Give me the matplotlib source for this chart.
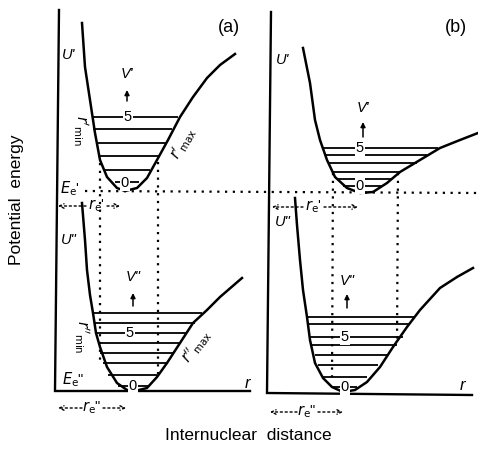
import numpy as np
import matplotlib.pyplot as plt

plt.rcParams.update({
    "font.family": ["Liberation Sans", "DejaVu Sans"],
    "mathtext.fontset": "custom",
    "mathtext.rm": "Liberation Sans",
    "mathtext.it": "Liberation Sans:italic",
})

# potential curves
upper_a_x = [82, 85, 90, 95, 100, 107, 117, 125, 137, 147, 157, 168, 180, 193, 207, 220, 235]
upper_a_y = [23, 67, 100, 133, 160, 177, 188, 191, 188, 178, 160, 140, 117, 97, 78, 65, 54]
lower_a_x = [82, 85, 87, 90, 93, 96, 100, 107, 117, 127, 135, 147, 157, 167, 180, 193, 207, 220, 242]
lower_a_y = [203, 240, 270, 295, 313, 333, 347, 367, 383, 390, 391, 388, 377, 363, 343, 323, 310, 297, 278]
upper_b_x = [303, 310, 315, 320, 327, 335, 347, 360, 373, 387, 400, 420, 440, 460, 478]
upper_b_y = [48, 83, 120, 140, 160, 177, 188, 193, 192, 183, 172, 160, 148, 140, 133]
lower_b_x = [295, 297, 300, 303, 307, 310, 315, 323, 332, 343, 355, 367, 380, 393, 407, 420, 440, 457, 473]
lower_b_y = [198, 225, 260, 290, 317, 340, 363, 378, 387, 392, 390, 382, 367, 347, 327, 310, 288, 277, 268]

# vibrational levels: height, left end, right end
lev_upper_a_y = [182, 170, 156, 143, 129, 117]
lev_upper_a_l = [115, 105, 98, 96, 93, 92]
lev_upper_a_r = [139, 150, 160, 167, 172, 178]
lev_lower_a_y = [386, 375, 363, 353, 343, 333, 323, 313]
lev_lower_a_l = [118, 108, 103, 100, 98, 97, 94, 93]
lev_lower_a_r = [148, 157, 167, 173, 180, 187, 195, 202]
lev_upper_b_y = [186, 179, 172, 163, 155, 148]
lev_upper_b_l = [343, 337, 332, 328, 325, 323]
lev_upper_b_r = [383, 392, 400, 417, 427, 438]
lev_lower_b_y = [387, 377, 365, 355, 345, 337, 324, 317]
lev_lower_b_l = [332, 323, 318, 315, 312, 310, 308, 307]
lev_lower_b_r = [357, 367, 378, 388, 397, 403, 410, 415]

# frames (vertical axis top, corner, baseline end)
frame_a = [(59, 10), (55, 391), (250, 391)]
frame_b = [(271, 12), (267, 393), (472, 395)]

fig = plt.figure(figsize=(4.78, 4.49), dpi=100)
ax = fig.add_axes([0, 0, 1, 1])
ax.set_xlim(0, 478)
ax.set_ylim(449, 0)
ax.axis("off")

for fr in (frame_a, frame_b):
    xs, ys = zip(*fr)
    ax.plot(xs, ys, color="black", lw=1.7, solid_joinstyle="miter")

for cx, cy in [(upper_a_x, upper_a_y), (lower_a_x, lower_a_y),
               (upper_b_x, upper_b_y), (lower_b_x, lower_b_y)]:
    ax.plot(cx, cy, color="black", lw=1.8)

for ly, ll, lr in [(lev_upper_a_y, lev_upper_a_l, lev_upper_a_r),
                   (lev_lower_a_y, lev_lower_a_l, lev_lower_a_r),
                   (lev_upper_b_y, lev_upper_b_l, lev_upper_b_r),
                   (lev_lower_b_y, lev_lower_b_l, lev_lower_b_r)]:
    ax.hlines(ly, ll, lr, color="black", lw=1.3)

# dotted guides
dot = dict(color="black", lw=1.6, linestyle=(0, (1, 2.5)))
ax.plot([85, 478], [191, 193], **dot)
ax.plot([100, 100], [163, 360], **dot)
ax.plot([158, 158], [162, 376], **dot)
ax.plot([333, 332], [173, 377], **dot)
ax.plot([398, 397], [173, 343], **dot)

# level numbers
num = dict(fontsize=10.5, ha="center", va="center",
           bbox=dict(facecolor="white", edgecolor="none", pad=0.6))
for x, y, s in [(128, 117, "5"), (125, 183, "0"), (130, 333, "5"), (133, 386, "0"),
                (360, 148, "5"), (360, 186, "0"), (345, 337, "5"), (345, 387, "0")]:
    ax.text(x, y, s, **num)

ital = dict(fontsize=10.5, ha="center", va="center", style="italic")
mlab = dict(fontsize=10.5, ha="center", va="center", math_fontfamily="dejavusans")

# v labels with small arrows
for x, yt, y0, y1, s in [(127, 74, 101, 90, "V'"), (133, 277, 306, 293, 'V"'),
                         (363, 108, 137, 122, "V'"), (347, 281, 308, 294, 'V"')]:
    ax.text(x, yt, s, **ital)
    ax.annotate("", xy=(x, y1), xytext=(x, y0),
                arrowprops=dict(arrowstyle="-|>", color="black", lw=1.1,
                                mutation_scale=7, shrinkA=0, shrinkB=0))

ax.text(69, 55, "U'", **ital)
ax.text(69, 240, 'U"', **ital)
ax.text(283, 60, "U'", **ital)
ax.text(283, 222, 'U"', **ital)
ax.text(70, 189, r"$E_{\mathrm{e}}$'", **mlab)
ax.text(73, 380, r'$E_{\mathrm{e}}$"', **mlab)
ax.text(247, 383, "r", fontsize=12, ha="center", va="center", style="italic")
ax.text(462, 385, "r", fontsize=12, ha="center", va="center", style="italic")

ax.text(81, 130, r"$r'_{\mathrm{min}}$", rotation=-90, **mlab)
ax.text(82, 337, r"$r''_{\mathrm{min}}$", rotation=-90, **mlab)
ax.text(183, 143, r"$r'_{\mathrm{max}}$", rotation=60, **mlab)
ax.text(196, 346, r"$r''_{\mathrm{max}}$", rotation=53, **mlab)

# r_e spans
span_arrow = dict(arrowstyle="->", color="black", lw=1.0, linestyle=(0, (1.5, 2)),
                  shrinkA=0, shrinkB=0, mutation_scale=8)
for x0, x1, xl, y, s in [(58, 120, 96, 206, r"$r_{\mathrm{e}}$'"),
                         (58, 126, 92, 408, r'$r_{\mathrm{e}}$"'),
                         (272, 358, 313, 207, r"$r_{\mathrm{e}}$'"),
                         (270, 343, 307, 412, r'$r_{\mathrm{e}}$"')]:
    ax.text(xl, y, s, **mlab)
    ax.annotate("", xy=(x0, y), xytext=(xl - 10, y), arrowprops=span_arrow)
    ax.annotate("", xy=(x1, y), xytext=(xl + 11, y), arrowprops=span_arrow)

ax.text(229, 28, "(a)", fontsize=13, ha="center", va="center")
ax.text(456, 27, "(b)", fontsize=13, ha="center", va="center")
ax.text(17, 200, "Potential  energy", fontsize=12.5, rotation=90, ha="center", va="center")
ax.text(248, 436, "Internuclear  distance", fontsize=12.5, ha="center", va="center")

fig.savefig("out.png", dpi=100)
